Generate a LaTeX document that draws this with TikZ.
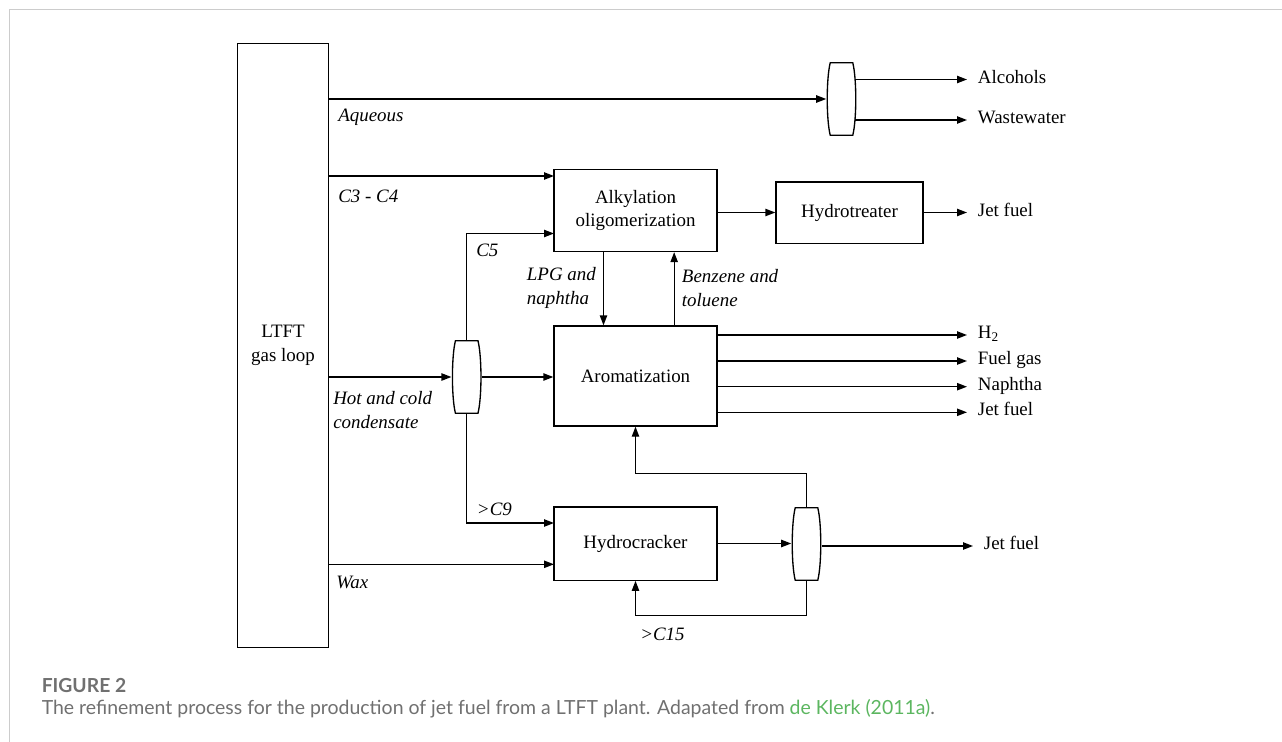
\documentclass[tikz,border=0pt]{standalone}
\usepackage{fontspec}
\setmainfont{Liberation Serif}
\newfontfamily\capfont{Lato}
\usetikzlibrary{arrows.meta}
\definecolor{capgrey}{RGB}{112,112,112}
\definecolor{capgreen}{RGB}{92,182,96}
\definecolor{framegrey}{RGB}{204,204,204}

\begin{document}
\begin{tikzpicture}[
    x=0.75pt, y=-0.75pt,
    font=\fontsize{14.2}{17.5}\selectfont,
    % Styles for units, separators and streams
    unit/.style={draw, rectangle, line width=1pt, align=center, inner sep=2pt},
    separator/.style={rectangle, minimum width=22.5pt, minimum height=54pt, inner sep=0pt},
    stream/.style={-{Triangle[length=7.5pt, width=5.5pt]}, line width=1pt},
    product/.style={anchor=west, inner xsep=8pt, inner ysep=0pt, text height=1.6ex, text depth=0.4ex},
    tag/.style={anchor=west, inner sep=0pt, align=left, font=\fontsize{14.2}{18}\selectfont\itshape}
]
    \useasboundingbox (0,0) rectangle (1282,742);

    % --- FRAME ---
    \draw [framegrey, line width=0.9pt] (9.5,742) -- (9.5,9.5) -- (1282,9.5);

    % --- NODES ---
    \node [unit, minimum width=68.25pt, minimum height=453pt] (ltft) at (283,345.5) {LTFT\\gas loop};
    \node [unit, minimum width=122.25pt, minimum height=61.5pt] (alkyl) at (635.5,210.5) {Alkylation\\oligomerization};
    \node [unit, minimum width=110.25pt, minimum height=46pt] (hydrot) at (849.5,212.5) {Hydrotreater};
    \node [unit, minimum width=122.25pt, minimum height=75pt] (arom) at (635.5,376) {Aromatization};
    \node [unit, minimum width=122.25pt, minimum height=55pt] (hcrack) at (635.5,543.5) {Hydrocracker};

    % Separators
    \node [separator] (sep1) at (841.5,99) {};
    \node [separator] (sep2) at (466.7,377) {};
    \node [separator] (sep3) at (806.5,544) {};
    \foreach \s in {sep1,sep2,sep3}
        \draw [line width=1pt] ([xshift=3pt]\s.north west) -- ([xshift=-3pt]\s.north east)
            .. controls ([yshift=-12pt]\s.north east) and ([yshift=12pt]\s.south east) .. ([xshift=-3pt]\s.south east)
            -- ([xshift=3pt]\s.south west)
            .. controls ([yshift=12pt]\s.south west) and ([yshift=-12pt]\s.north west) .. cycle;

    % Feed points on the unit inlets
    \coordinate (c34) at (554,176);
    \coordinate (c5) at (554,233.5);
    \coordinate (c9) at (554,523);
    \coordinate (wax) at (554,564.3);

    % Products
    \node [product] (alc) at (967,79.5) {Alcohols};
    \node [product] (ww) at (967,120) {Wastewater};
    \node [product] (jet1) at (967,212.5) {Jet fuel};
    \node [product] (h2) at (967,335) {H\textsubscript{2}};
    \node [product] (fgas) at (967,361) {Fuel gas};
    \node [product] (naph) at (967,386.7) {Naphtha};
    \node [product] (jet2) at (967,412.3) {Jet fuel};
    \node [product] (jet3) at (973,546) {Jet fuel};

    % --- CONNECTIONS ---
    % LTFT outlets
    \draw [stream] (ltft.east |- sep1.west) -- (sep1.west);
    \draw [stream] (ltft.east |- c34) -- (c34);
    \draw [stream] (ltft.east |- sep2.west) -- (sep2.west);
    \draw [stream] (ltft.east |- wax) -- (wax);

    % Aqueous split
    \draw [stream] ([xshift=-1pt]sep1.east |- alc) -- (alc.west);
    \draw [stream] ([xshift=-1pt]sep1.east |- ww) -- (ww.west);

    % Condensate split
    \draw [stream] (sep2.north) |- (c5);
    \draw [stream] (sep2.east) -- (sep2.east -| arom.west);
    \draw [stream] (sep2.south) |- (c9);

    % Alkylation and aromatization
    \draw [stream] (alkyl.east |- hydrot) -- (hydrot.west);
    \draw [stream] (hydrot.east) -- (jet1.west);
    \draw [stream] ([xshift=-24pt]alkyl.south) -- ([xshift=-24pt]arom.north);
    \draw [stream] ([xshift=29pt]arom.north) -- ([xshift=29pt]alkyl.south);
    \draw [stream] (arom.east |- h2) -- (h2.west);
    \draw [stream] (arom.east |- fgas) -- (fgas.west);
    \draw [stream] (arom.east |- naph) -- (naph.west);
    \draw [stream] (arom.east |- jet2) -- (jet2.west);

    % Hydrocracker loop
    \draw [stream] (hcrack.east) -- (hcrack.east -| sep3.west);
    \draw [stream] (sep3.east |- jet3) -- (jet3.west);
    \draw [stream] (sep3.north) -- ++(0,-34) -| (arom.south);
    \draw [stream] (sep3.south) -- ++(0,35) -| (hcrack.south);

    % Stream labels
    \node [tag] (tagaq) at (338,117) {Aqueous};
    \node [tag] (tagc34) at (338,196) {C3 - C4};
    \node [tag] (tagc5) at (476,250) {C5};
    \node [tag] (taglpg) at (526.7,288) {LPG and\\naphtha};
    \node [tag] (tagbz) at (681.7,288) {Benzene and\\toluene};
    \node [tag] (tagcond) at (333,410.5) {Hot and cold\\condensate};
    \node [tag] (tagc9) at (476.7,509) {>C9};
    \node [tag] (tagwax) at (336,582) {Wax};
    \node [tag] (tagc15) at (640,634) {>C15};

    % --- CAPTION ---
    \node [anchor=west, inner sep=0pt, text=capgrey, font=\capfont\bfseries\fontsize{14.5}{17}\selectfont] (fig) at (41.5,686) {FIGURE 2};
    \node [anchor=west, inner sep=0pt, text=capgrey, font=\capfont\fontsize{14.6}{17}\selectfont] (cap) at (41.5,709)
        {The refinement process for the production of jet fuel from a LTFT plant. Adapated from \textcolor{capgreen}{de Klerk (2011a)}.};

\end{tikzpicture}
\end{document}
